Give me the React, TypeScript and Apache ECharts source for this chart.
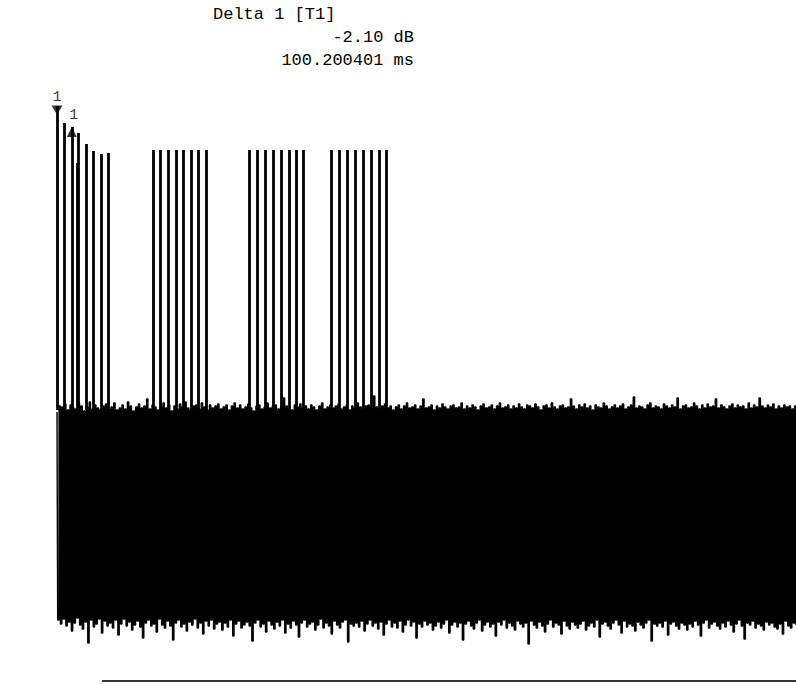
import React, { useEffect, useRef } from "react";
import * as echarts from "echarts";

// Noise floor: upper and lower turning points of each sweep cycle (dB)
const NOISE_TOP_DB = [
  -31.2,-30.6,-30.7,-30.4,-31.0,-30.5,-30.8,-30.9,-30.3,-30.6,
  -31.1,-30.7,-30.2,-30.9,-30.5,-30.8,-31.0,-30.6,-30.4,-30.9,
  -30.7,-30.3,-31.0,-30.8,-30.5,-30.9,-30.2,-30.6,-31.1,-30.7,
  -30.4,-30.8,-30.6,-29.9,-30.9,-30.5,-30.7,-31.0,-30.6,-30.3,
  -30.8,-30.5,-31.1,-30.6,-30.9,-30.4,-30.7,-30.2,-30.8,-31.0,
  -30.6,-30.5,-30.9,-30.3,-30.7,-31.0,-30.5,-30.8,-30.6,-30.4,
  -30.9,-30.7,-30.5,-31.0,-30.6,-30.3,-30.8,-30.5,-30.9,-30.7,
  -30.4,-30.8,-31.1,-30.6,-30.5,-30.9,-30.7,-30.3,-30.8,-30.6,
  -30.5,-30.9,-30.7,-29.8,-30.6,-30.8,-31.0,-30.5,-30.7,-30.4,
  -30.8,-30.6,-30.9,-30.5,-30.7,-31.0,-30.6,-30.3,-30.9,-30.7,
  -30.5,-30.8,-30.6,-30.4,-30.9,-30.7,-30.5,-31.0,-30.6,-30.8,
  -30.3,-30.7,-30.9,-30.6,-30.5,-30.8,-29.6,-30.7,-30.9,-30.6,
  -30.4,-30.8,-30.6,-31.0,-30.7,-30.5,-30.9,-30.6,-30.3,-30.8,
  -30.7,-30.5,-30.9,-30.6,-29.9,-30.8,-30.7,-30.5,-31.0,-30.6,
  -30.8,-30.4,-30.7,-30.9,-30.6,-30.5,-30.8,-30.7,-30.3,-30.9,
  -30.6,-30.8,-30.5,-30.7,-31.0,-30.6,-30.4,-30.8,-30.7,-30.5,
  -30.9,-30.6,-30.3,-30.8,-30.7,-30.5,-30.9,-30.6,-30.8,-30.4,
  -30.7,-30.9,-30.5,-30.6,-30.8,-30.4,-30.7,-31.0,-30.6,-30.5,
  -30.8,-30.3,-30.7,-30.9,-30.6,-30.5,-30.8,-30.7,-29.9,-30.6,
  -30.9,-30.5,-30.7,-30.4,-30.8,-30.6,-31.0,-30.5,-30.7,-30.8,
  -30.3,-30.6,-30.9,-30.7,-30.5,-30.8,-30.6,-30.4,-30.9,-30.7,
  -30.5,-29.7,-30.8,-30.6,-30.7,-30.9,-30.5,-30.3,-30.8,-30.6,
  -30.7,-30.9,-30.4,-30.6,-30.8,-30.5,-30.7,-29.8,-30.9,-30.6,
  -30.5,-30.8,-30.7,-30.3,-30.6,-30.9,-30.5,-30.8,-30.4,-30.7,
  -30.6,-29.9,-30.8,-30.5,-30.7,-30.9,-30.6,-30.4,-30.8,-30.5,
  -30.7,-30.6,-30.9,-30.3,-30.8,-30.5,-30.7,-29.8,-30.6,-30.8,
  -30.5,-30.7,-30.4,-30.9,-30.6,-30.8,-30.5,-30.7,-30.6,-30.9,
  -30.6,
];

const NOISE_BOTTOM_DB = [
  -52.0,-52.4,-51.9,-52.6,-52.2,-53.1,-52.3,-51.8,-52.5,-52.9,
  -52.2,-54.3,-52.0,-52.7,-52.4,-51.9,-53.3,-52.1,-52.6,-52.3,
  -52.8,-52.0,-53.5,-52.4,-51.9,-52.6,-52.2,-53.0,-52.5,-52.1,
  -52.7,-53.8,-52.3,-52.0,-52.6,-52.4,-53.2,-51.9,-52.5,-52.8,
  -52.1,-52.6,-54.0,-52.3,-52.0,-52.7,-52.4,-53.1,-52.2,-52.5,
  -51.9,-52.8,-52.3,-53.4,-52.1,-52.6,-52.0,-52.9,-52.4,-52.2,
  -53.0,-52.3,-52.7,-52.0,-53.6,-52.4,-52.1,-52.8,-52.5,-52.2,
  -52.6,-54.1,-52.3,-52.0,-52.7,-52.4,-53.2,-52.1,-52.5,-52.9,
  -52.2,-52.6,-52.0,-53.3,-52.4,-52.8,-52.1,-52.5,-53.7,-52.3,
  -52.0,-52.7,-52.4,-52.2,-53.0,-52.5,-51.9,-52.8,-52.3,-52.6,
  -53.4,-52.1,-52.5,-52.8,-52.2,-52.0,-54.2,-52.4,-52.6,-52.3,
  -52.7,-52.1,-53.1,-52.4,-52.0,-52.6,-52.3,-52.9,-52.2,-53.5,
  -52.4,-52.0,-52.7,-52.3,-52.8,-52.1,-53.2,-52.5,-52.0,-52.6,
  -52.2,-53.8,-52.4,-52.7,-52.1,-52.5,-52.3,-53.0,-52.6,-52.2,
  -52.8,-52.4,-52.0,-53.3,-52.5,-52.2,-52.7,-52.3,-54.0,-52.4,
  -52.1,-52.6,-52.9,-52.3,-52.0,-53.1,-52.5,-52.2,-52.7,-52.4,
  -53.6,-52.2,-52.5,-52.0,-52.8,-52.3,-52.6,-53.0,-52.1,-52.4,
  -52.7,-52.3,-54.4,-52.1,-52.5,-52.8,-52.2,-52.6,-53.2,-52.4,
  -52.0,-52.7,-52.3,-52.5,-53.4,-52.1,-52.6,-52.9,-52.2,-52.5,
  -52.8,-52.4,-52.1,-53.0,-52.6,-52.3,-52.7,-52.0,-53.7,-52.4,
  -52.2,-52.6,-52.9,-52.3,-52.0,-52.5,-53.3,-52.1,-52.7,-52.4,
  -52.6,-53.1,-52.2,-52.5,-52.8,-52.3,-52.0,-54.1,-52.4,-52.6,
  -52.3,-52.7,-52.1,-53.5,-52.4,-52.2,-52.6,-52.9,-52.3,-52.5,
  -53.0,-52.4,-52.7,-52.1,-52.5,-53.6,-52.3,-52.0,-52.8,-52.4,
  -52.2,-52.6,-52.9,-52.3,-52.7,-52.1,-52.5,-53.2,-52.4,-52.0,
  -52.6,-53.9,-52.3,-52.5,-52.1,-52.8,-52.4,-52.6,-53.0,-52.2,
  -52.5,-52.3,-52.7,-52.9,-52.4,-53.4,-52.1,-52.6,-52.8,-52.3,
  -52.5,
];

// Burst pulses: time (ms) and peak level (dB)
const PULSE_TIME_MS = [
  0, 47, 100.2, 135, 145, 196, 243, 297, 345,
  649, 696, 750, 804, 851, 905, 953, 1007,
  1304, 1358, 1412, 1460, 1514, 1568, 1622, 1669,
  1858, 1912, 1966, 2020, 2074, 2128, 2182, 2230,
];
const PULSE_PEAK_DB = [
  -0.6, -2.3, -2.7, -6.3, -3.3, -4.4, -5.1, -5.4, -5.3,
  -5.0, -5.0, -5.0, -5.0, -5.0, -5.0, -5.0, -5.0,
  -5.0, -5.0, -5.0, -5.0, -5.0, -5.0, -5.0, -5.0,
  -5.0, -5.0, -5.0, -5.0, -5.0, -5.0, -5.0, -5.0,
];

const CYCLE_MS = 18.5;
const PULSE_BASE_DB = -31;

// Markers: [time ms, level dB, label]
const MARKER_1 = [0, -1.0, "1"];
const DELTA_1 = [100.2, -3.2, "1"];

const READOUT_LINES = ["Delta 1 [T1]", "-2.10 dB", "100.200401 ms"];

const FONT = "'Liberation Mono', 'DejaVu Sans Mono', monospace";

export default function App() {
  const ref = useRef<HTMLDivElement>(null);

  useEffect(() => {
    if (!ref.current) return;
    const chart = echarts.init(ref.current, null, { renderer: "svg" });

    const noise: number[][] = [];
    for (let i = 0; i < NOISE_TOP_DB.length; i++) {
      noise.push([i * CYCLE_MS, NOISE_TOP_DB[i]]);
      noise.push([i * CYCLE_MS + CYCLE_MS / 2, NOISE_BOTTOM_DB[i]]);
    }
    const pulses = PULSE_TIME_MS.map((t, i) => ({
      coords: [
        [t, PULSE_BASE_DB],
        [t, PULSE_PEAK_DB[i]],
      ],
    }));

    chart.setOption({
      animation: false,
      backgroundColor: "#ffffff",
      grid: { left: 57, top: 100, width: 740, height: 550 },
      xAxis: { type: "value", min: 0, max: 5000, show: false },
      yAxis: { type: "value", min: -55, max: 0, show: false },
      series: [
        {
          type: "line",
          data: noise,
          step: "middle",
          showSymbol: false,
          symbol: "none",
          lineStyle: { color: "#000", width: 1.4 },
          clip: true,
          z: 2,
        },
        {
          type: "lines",
          coordinateSystem: "cartesian2d",
          data: pulses,
          lineStyle: { color: "#000", width: 2.8, opacity: 1 },
          z: 3,
        },
        {
          type: "scatter",
          data: [[MARKER_1[0], MARKER_1[1]]],
          symbol: "path://M0,0 L10,0 L5,9 Z",
          symbolSize: [11, 9],
          itemStyle: { color: "#000" },
          label: {
            show: true,
            position: "top",
            distance: 1,
            formatter: MARKER_1[2] as string,
            color: "#000",
            fontFamily: FONT,
            fontSize: 15,
          },
          z: 5,
        },
        {
          type: "scatter",
          data: [[DELTA_1[0], DELTA_1[1]]],
          symbol: "path://M5,0 L10,9 L0,9 Z",
          symbolSize: [10, 10],
          itemStyle: { color: "#000" },
          label: {
            show: true,
            position: "top",
            distance: 4,
            offset: [2, 0],
            formatter: DELTA_1[2] as string,
            color: "#000",
            fontFamily: FONT,
            fontSize: 15,
          },
          z: 5,
        },
      ],
      graphic: [
        {
          type: "text",
          left: 213,
          top: 6,
          style: { text: READOUT_LINES[0], fill: "#000", font: `17px ${FONT}` },
        },
        {
          type: "text",
          right: 796 - 414,
          top: 29,
          style: { text: READOUT_LINES[1], fill: "#000", font: `17px ${FONT}` },
        },
        {
          type: "text",
          right: 796 - 414,
          top: 52,
          style: { text: READOUT_LINES[2], fill: "#000", font: `17px ${FONT}` },
        },
        {
          type: "line",
          shape: { x1: 102, y1: 681, x2: 796, y2: 681 },
          style: { stroke: "#333", lineWidth: 2 },
        },
      ],
    });

    return () => chart.dispose();
  }, []);

  return (
    <div
      ref={ref}
      style={{ position: "absolute", left: 0, top: 0, width: 796, height: 684, background: "#fff" }}
    />
  );
}
